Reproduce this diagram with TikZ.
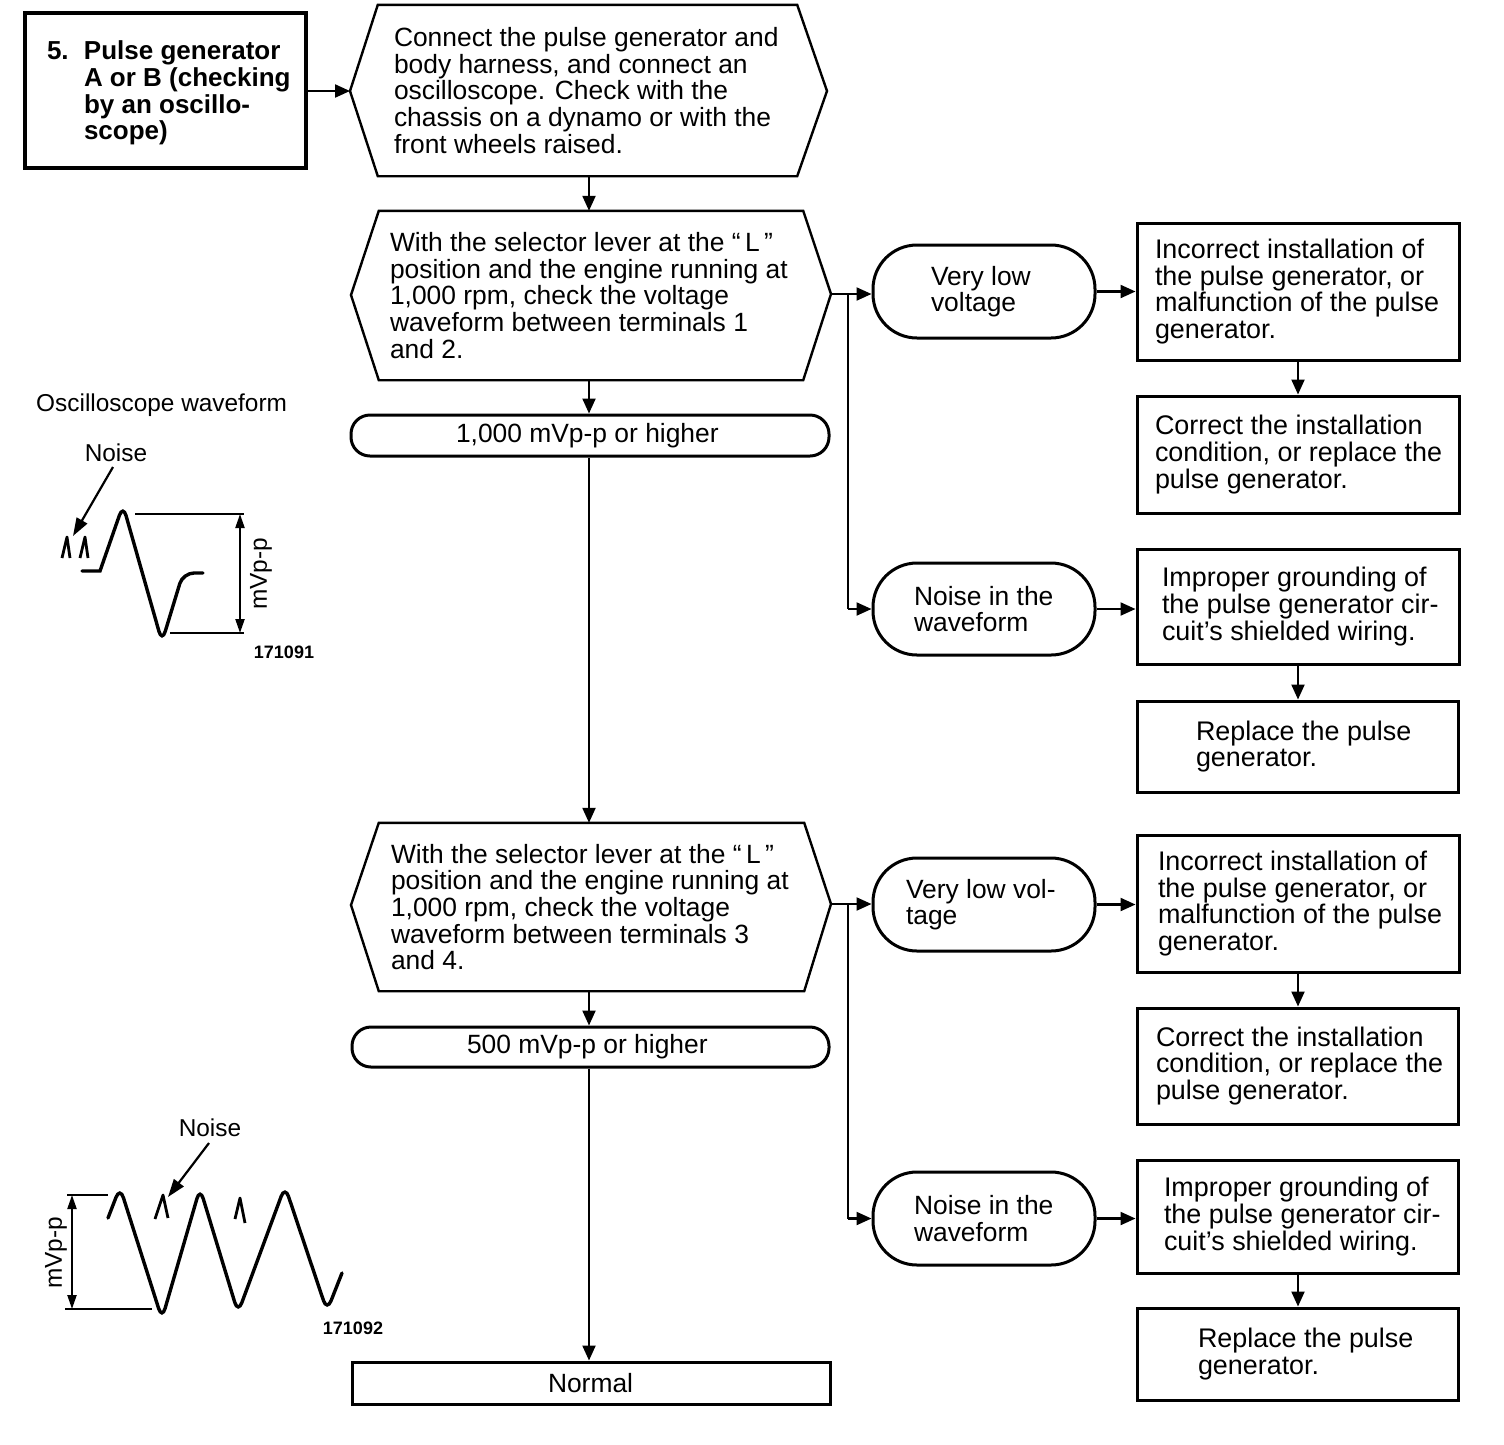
\documentclass[tikz,border=0pt]{standalone}
\usepackage{fontspec}
\setmainfont{Liberation Sans}
\usetikzlibrary{arrows.meta,calc}
\newcommand\mainsize{\fontsize{26.4}{26.6}\selectfont}
\newcommand\headsize{\fontsize{26}{26.6}\selectfont}
\newcommand\rightsize{\fontsize{26.9}{26.6}\selectfont}
\newcommand\smallsize{\fontsize{24.4}{26}\selectfont}
\newcommand\tinysize{\fontsize{18}{20}\selectfont}
% name, style, x1, y1, x2, y2, left pad, text
\newcommand\pxnode[8]{%
  \pgfmathsetmacro\WW{#5-#3}\pgfmathsetmacro\HH{#6-#4}%
  \pgfmathsetmacro\CX{(#3+#5)/2}\pgfmathsetmacro\CY{(#4+#6)/2}%
  \node[#2,minimum height=\HH pt,minimum width=\WW pt] (#1) at (\CX,\CY)
    {\makebox[\WW pt][l]{\hspace*{#7pt}\raisebox{-3.5pt}{\parbox[c]{480pt}{\lineskiplimit=-20pt\raggedright #8}}}};}
\tikzset{
  x=1pt,y=-1pt,
  base/.style={inner sep=0pt,font=\mainsize,text=black},
  plainbox/.style={base,draw,line width=3pt},
  rightbox/.style={plainbox,font=\rightsize},
  headbox/.style={base,draw,line width=3.6pt,font=\headsize\bfseries},
  stadium/.style={base,draw,line width=3pt,rounded corners=44pt},
  pill/.style={base,draw,line width=3pt,rounded corners=19pt},
  hexinner/.style={base},
  hexline/.style={line width=2.4pt,line join=miter},
  conn/.style={line width=2.2pt,-{Triangle[length=15pt,width=13pt]}},
  branch/.style={line width=2.2pt},
  wave/.style={line width=3.4pt,line cap=round},
  noisemark/.style={line width=2.8pt,line join=round},
  dimline/.style={line width=2.2pt},
  dimarrow/.style={line width=2.2pt,{Triangle[length=14pt,width=9pt]}-{Triangle[length=14pt,width=9pt]}},
  ptr/.style={line width=2.2pt,-{Triangle[length=18pt,width=12pt]}},
  lab/.style={inner sep=0pt,font=\smallsize,text=black},
  num/.style={inner sep=0pt,font=\tinysize\bfseries,text=black},
}
\begin{document}
\begin{tikzpicture}
\useasboundingbox (0,0) rectangle (1504,1444);

\pxnode{head}{headbox}{25}{13}{306}{168}{22}{\vspace*{5pt}\makebox[37pt][l]{5.}Pulse generator\\\makebox[37pt][l]{}A or B (checking\\\makebox[37pt][l]{}by an oscillo-\\\makebox[37pt][l]{}scope)}

% decision hexagons
\pxnode{h1}{hexinner}{378}{5}{797}{176}{16}{Connect the pulse generator and\\body harness, and connect an\\oscilloscope. Check with the\\chassis on a dynamo or with the\\front wheels raised.}
\coordinate (h1l) at (350,91); \coordinate (h1r) at (827,91);
\draw[hexline] (h1.north west)--(h1.north east)--(h1r)--(h1.south east)--(h1.south west)--(h1l)--cycle;

\pxnode{h2}{hexinner}{379}{211}{803}{380}{11}{With the selector lever at the ``\,L\,''\\position and the engine running at\\1,000 rpm, check the voltage\\waveform between terminals 1\\and 2.}
\coordinate (h2l) at (351,295); \coordinate (h2r) at (831,294);
\draw[hexline] (h2.north west)--(h2.north east)--(h2r)--(h2.south east)--(h2.south west)--(h2l)--cycle;

\pxnode{h3}{hexinner}{379}{823}{804}{991}{12}{With the selector lever at the ``\,L\,''\\position and the engine running at\\1,000 rpm, check the voltage\\waveform between terminals 3\\and 4.}
\coordinate (h3l) at (351,905); \coordinate (h3r) at (831,904);
\draw[hexline] (h3.north west)--(h3.north east)--(h3r)--(h3.south east)--(h3.south west)--(h3l)--cycle;

% result pills
\pxnode{p1}{pill}{351}{415}{829}{456}{105}{1,000 mVp-p or higher}
\pxnode{p2}{pill}{352}{1027}{829}{1067}{115}{500 mVp-p or higher}
\pxnode{normal}{plainbox}{352}{1362}{830}{1404}{196}{Normal}

% stadiums
\pxnode{s1}{stadium}{873}{245}{1095}{338}{58}{Very low\\voltage}
\pxnode{s2}{stadium}{873}{563}{1095}{655}{41}{Noise in the\\waveform}
\pxnode{s3}{stadium}{873}{858}{1095}{951}{33}{Very low vol-\\tage}
\pxnode{s4}{stadium}{873}{1172}{1095}{1265}{41}{Noise in the\\waveform}

% right boxes
\pxnode{r1}{rightbox}{1137}{223}{1459}{360}{18}{Incorrect installation of\\the pulse generator, or\\malfunction of the pulse\\generator.}
\pxnode{r2}{rightbox}{1137}{396}{1459}{513}{18}{Correct the installation\\condition, or replace the\\pulse generator.}
\pxnode{r3}{rightbox}{1137}{549}{1459}{664}{25}{Improper grounding of\\the pulse generator cir-\\cuit's shielded wiring.}
\pxnode{r4}{rightbox}{1137}{701}{1458}{792}{59}{Replace the pulse\\generator.}
\pxnode{r5}{rightbox}{1137}{835}{1459}{972}{21}{Incorrect installation of\\the pulse generator, or\\malfunction of the pulse\\generator.}
\pxnode{r6}{rightbox}{1137}{1008}{1458}{1124}{19}{Correct the installation\\condition, or replace the\\pulse generator.}
\pxnode{r7}{rightbox}{1137}{1160}{1458}{1273}{27}{Improper grounding of\\the pulse generator cir-\\cuit's shielded wiring.}
\pxnode{r8}{rightbox}{1137}{1308}{1458}{1400}{61}{Replace the pulse\\generator.}

% connectors
\coordinate (spine) at (589,0);
\coordinate (bx) at (848,0);
\coordinate (dn) at (1298,0);
\draw[conn] (head.east |- h1r) -- (h1l);
\draw[conn] (spine |- h1.south) -- (spine |- h2.north);
\draw[conn] (spine |- h2.south) -- (spine |- p1.north);
\draw[conn] (spine |- p1.south) -- (spine |- h3.north);
\draw[conn] (spine |- h3.south) -- (spine |- p2.north);
\draw[conn] (spine |- p2.south) -- (spine |- normal.north);

\draw[conn] (h2r) -- (s1.west |- h2r);
\draw[branch] (bx |- h2r) -- (bx |- s2.west);
\draw[conn] (bx |- s2.west) -- (s2.west);
\draw[conn] (h3r) -- (s3.west |- h3r);
\draw[branch] (bx |- h3r) -- (bx |- s4.west);
\draw[conn] (bx |- s4.west) -- (s4.west);

\draw[conn] (s1.east) -- (r1.west |- s1.east);
\draw[conn] (s2.east) -- (r3.west |- s2.east);
\draw[conn] (s3.east) -- (r5.west |- s3.east);
\draw[conn] (s4.east) -- (r7.west |- s4.east);

\draw[conn] (dn |- r1.south) -- (dn |- r2.north);
\draw[conn] (dn |- r3.south) -- (dn |- r4.north);
\draw[conn] (dn |- r5.south) -- (dn |- r6.north);
\draw[conn] (dn |- r7.south) -- (dn |- r8.north);

% waveform 1
\node[lab,anchor=west] (osc) at (36,405) {Oscilloscope waveform};
\node[lab] (n1) at (116,453) {Noise};
\coordinate (n1t) at (73,536);
\draw[ptr] (113,467) -- (n1t);
\draw[noisemark] (62,558) -- (67,537) -- (70,558);
\draw[noisemark] (80,558) -- (85,537) -- (88,558);
\draw[wave] (82,571) -- (100,571) [rounded corners=11pt] -- (123,505) -- (162,642) -- (183,573) [sharp corners] -- (203,573);
\draw[dimline] (135,514) -- (244,514);
\draw[dimline] (170,633) -- (244,633);
\draw[dimarrow] (240,514) -- (240,633);
\node[lab,rotate=90] (mv1) at (261,574) {mVp-p};
\node[num] (c1) at (284,652) {171091};

% waveform 2
\node[lab] (n2) at (210,1128) {Noise};
\coordinate (n2t) at (168,1197);
\draw[ptr] (209,1143) -- (n2t);
\draw[noisemark] (155,1219) -- (163,1195) -- (168,1218);
\draw[noisemark] (235,1219) -- (240,1198) -- (245,1223);
\draw[wave,rounded corners=11pt] (108,1218) -- (120,1187) -- (162,1319) -- (200,1188) -- (238,1313) -- (285,1186) -- (327,1311) -- (342,1273);
\draw[dimline] (67,1195) -- (108,1195);
\draw[dimline] (65,1309) -- (152,1309);
\draw[dimarrow] (72,1195) -- (72,1309);
\node[lab,rotate=90] (mv2) at (56,1253) {mVp-p};
\node[num] (c2) at (353,1328) {171092};
\end{tikzpicture}
\end{document}
